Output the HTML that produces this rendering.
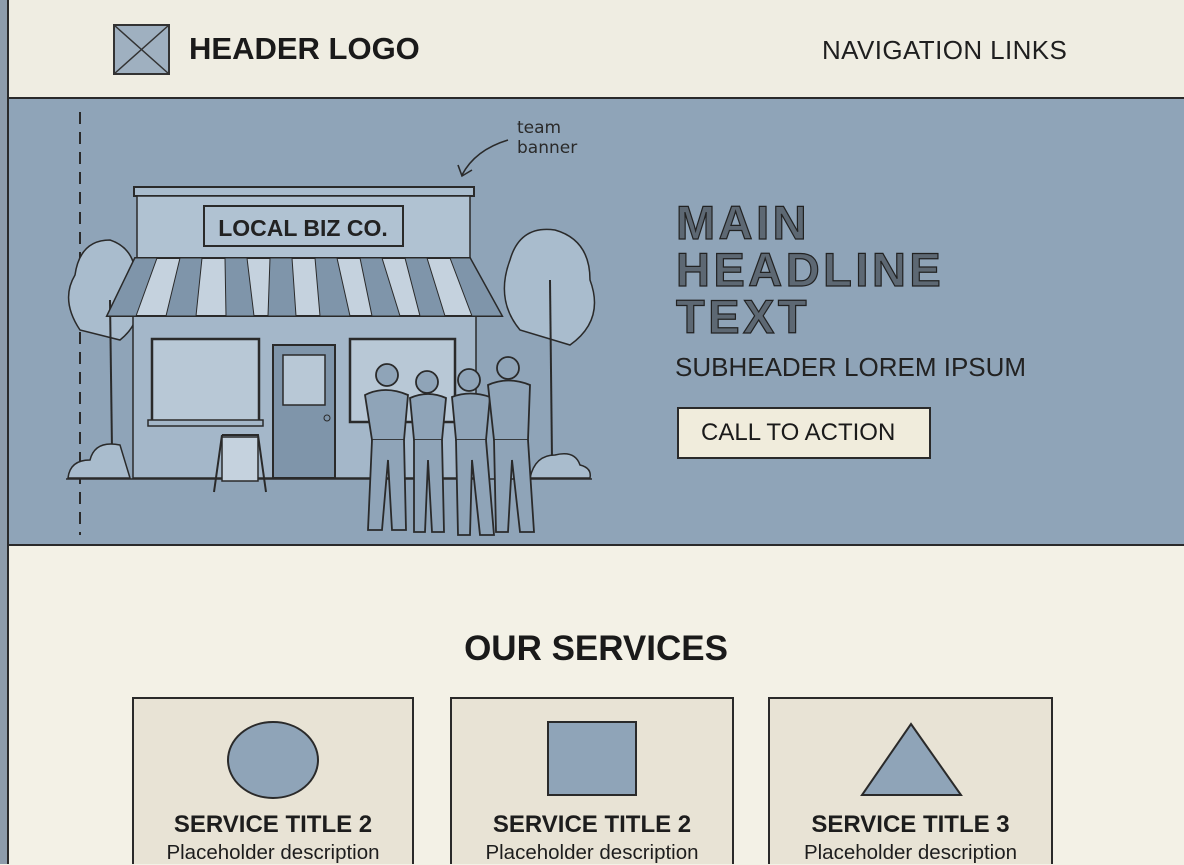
<!DOCTYPE html>
<html><head><meta charset="utf-8"><style>
*{margin:0;padding:0;box-sizing:border-box}
body{width:1184px;height:864px;overflow:hidden;background:#f3f1e6;font-family:"Liberation Sans",sans-serif;position:relative;color:#1d1d1d}
.abs{position:absolute}
</style></head><body>
<div class="abs" style="left:0;top:0;width:8px;height:864px;background:#8d9cab"></div>
<div class="abs" style="left:7px;top:0;width:2px;height:864px;background:#2a2a2a"></div>
<div class="abs" style="left:9px;top:0;width:1175px;height:98px;background:#efede2"></div>
<div class="abs" style="left:9px;top:97px;width:1175px;height:2px;background:#2a2a2a"></div>
<div class="abs" style="left:9px;top:99px;width:1175px;height:447px;background:#8fa4b8"></div>
<div class="abs" style="left:9px;top:544px;width:1175px;height:2px;background:#2a2a2a"></div>

<svg class="abs" style="left:0;top:0" width="1184" height="864">
<rect x="114" y="25" width="55" height="49" fill="#9fb0c0" stroke="#333" stroke-width="2"/>
<line x1="114" y1="25" x2="169" y2="74" stroke="#333" stroke-width="1.5"/><line x1="169" y1="25" x2="114" y2="74" stroke="#333" stroke-width="1.5"/>
<line x1="80" y1="112" x2="80" y2="535" stroke="#2a2a2a" stroke-width="2" stroke-dasharray="12,8"/>
<path d="M508 140 Q475 150 462 175" fill="none" stroke="#2a2a2a" stroke-width="1.6"/>
<path d="M458 165 L462 176 L472 170" fill="none" stroke="#2a2a2a" stroke-width="1.6"/>
<text x="517" y="133" font-family="DejaVu Sans" font-size="17" fill="#2a2a2a">team</text>
<text x="517" y="153" font-family="DejaVu Sans" font-size="17" fill="#2a2a2a">banner</text>
<path d="M80 330 Q60 300 75 275 Q80 240 110 240 Q140 250 135 290 Q145 320 120 340 Z" fill="#a9bccd" stroke="#2a2a2a" stroke-width="1.5"/>
<line x1="110" y1="300" x2="112" y2="450" stroke="#2a2a2a" stroke-width="2"/>
<path d="M520 330 Q495 300 510 260 Q520 225 555 230 Q590 240 590 280 Q605 320 570 345 Z" fill="#a9bccd" stroke="#2a2a2a" stroke-width="1.5"/>
<line x1="550" y1="280" x2="552" y2="460" stroke="#2a2a2a" stroke-width="2"/>
<path d="M68 478 Q70 460 90 460 Q95 440 120 445 L130 478 Z" fill="#a9bccd" stroke="#2a2a2a" stroke-width="1.5"/>
<path d="M530 478 Q535 455 555 455 Q575 450 580 465 Q592 468 590 478 Z" fill="#a9bccd" stroke="#2a2a2a" stroke-width="1.5"/>
<line x1="66" y1="479" x2="592" y2="479" stroke="#2a2a2a" stroke-width="1.5"/>
<rect x="134" y="187" width="340" height="9" fill="#a9bccd" stroke="#2a2a2a" stroke-width="2"/>
<rect x="137" y="196" width="333" height="62" fill="#b0c2d2" stroke="#2a2a2a" stroke-width="1.5"/>
<rect x="204" y="206" width="199" height="40" fill="#b0c2d2" stroke="#2a2a2a" stroke-width="2"/>
<text x="303" y="236" text-anchor="middle" font-size="23" font-weight="bold" fill="#222">LOCAL BIZ CO.</text>
<rect x="133" y="305" width="343" height="173" fill="#a4b7c9" stroke="#2a2a2a" stroke-width="1.5"/>
<path d="M135 258 L470 258 L502 316 L107 316 Z" fill="#c5d2de" stroke="#2a2a2a" stroke-width="2"/>
<g fill="#7f95aa" stroke="#2a2a2a" stroke-width="1">
<path d="M135 258 L157 258 L136 316 L107 316 Z"/><path d="M180 258 L202 258 L196 316 L166 316 Z"/><path d="M225 258 L247 258 L254 316 L226 316 Z"/><path d="M270 258 L292 258 L296 316 L268 316 Z"/><path d="M315 258 L337 258 L350 316 L320 316 Z"/><path d="M360 258 L382 258 L400 316 L372 316 Z"/><path d="M405 258 L427 258 L445 316 L420 316 Z"/><path d="M450 258 L470 258 L502 316 L472 316 Z"/>
</g>
<rect x="152" y="339" width="107" height="83" fill="#b8c8d6" stroke="#2a2a2a" stroke-width="2.5"/>
<rect x="148" y="420" width="115" height="6" fill="#a4b7c9" stroke="#2a2a2a" stroke-width="1.5"/>
<rect x="350" y="339" width="105" height="83" fill="#b8c8d6" stroke="#2a2a2a" stroke-width="2.5"/>
<rect x="273" y="345" width="62" height="133" fill="#7f95aa" stroke="#2a2a2a" stroke-width="2"/>
<rect x="283" y="355" width="42" height="50" fill="#b8c8d6" stroke="#2a2a2a" stroke-width="1.5"/>
<circle cx="327" cy="418" r="3" fill="none" stroke="#2a2a2a"/>
<path d="M222 435 L258 435 L266 492 M222 435 L214 492" fill="none" stroke="#2a2a2a" stroke-width="2"/>
<rect x="222" y="437" width="36" height="44" fill="#c5d2de" stroke="#2a2a2a" stroke-width="1.5"/>
<g fill="#8fa4b8" stroke="#2a2a2a" stroke-width="1.8">
<circle cx="387" cy="375" r="11"/><path d="M365 395 Q385 385 408 395 L404 440 L372 440 Z"/><path d="M372 440 L368 530 L382 530 L388 460 L392 530 L406 530 L404 440"/>
<circle cx="427" cy="382" r="11"/><path d="M410 398 Q428 390 446 398 L442 440 L414 440 Z"/><path d="M414 440 L414 532 L425 532 L428 460 L432 532 L444 532 L442 440"/>
<circle cx="469" cy="380" r="11"/><path d="M452 397 Q470 390 490 397 L486 440 L456 440 Z"/><path d="M456 440 L458 535 L470 535 L472 460 L480 535 L494 535 L486 440"/>
<circle cx="508" cy="368" r="11"/><path d="M488 385 Q508 376 530 385 L528 440 L494 440 Z"/><path d="M494 440 L496 532 L508 532 L512 460 L520 532 L534 532 L528 440"/>
</g>
<g stroke="#2a2a2a" stroke-width="2" fill="#e8e3d5">
<rect x="133" y="698" width="280" height="180"/><rect x="451" y="698" width="282" height="180"/><rect x="769" y="698" width="283" height="180"/>
</g>
<ellipse cx="273" cy="760" rx="45" ry="38" fill="#8fa4b8" stroke="#2a2a2a" stroke-width="2"/>
<rect x="548" y="722" width="88" height="73" fill="#8fa4b8" stroke="#2a2a2a" stroke-width="2"/>
<path d="M911 724 L961 795 L862 795 Z" fill="#8fa4b8" stroke="#2a2a2a" stroke-width="2"/>
</svg>

<div class="abs" style="left:189px;top:31px;font-size:31px;font-weight:bold;color:#1a1a1a">HEADER LOGO</div>
<div class="abs" style="left:822px;top:35px;font-size:26px;letter-spacing:0.4px;color:#1f1f1f">NAVIGATION LINKS</div>
<div class="abs" style="left:676px;top:199px;font-size:47px;line-height:47px;font-weight:bold;color:#5d6873;-webkit-text-stroke:1.2px #222;letter-spacing:3.5px">MAIN<br>HEADLINE<br>TEXT</div>
<div class="abs" style="left:675px;top:352px;font-size:26px;color:#222">SUBHEADER LOREM IPSUM</div>
<div class="abs" style="left:677px;top:407px;width:254px;height:52px;background:#f0ecdc;border:2px solid #2a2a2a;font-size:24px;line-height:48px;padding-left:22px;color:#1a1a1a">CALL TO ACTION</div>
<div class="abs" style="left:0;width:1184px;top:629px;text-align:center;font-size:35px;font-weight:bold;color:#1a1a1a;padding-left:8px">OUR SERVICES</div>
<div class="abs" style="left:133px;width:280px;top:811px;text-align:center;font-size:24px;font-weight:bold">SERVICE TITLE 2</div>
<div class="abs" style="left:451px;width:282px;top:811px;text-align:center;font-size:24px;font-weight:bold">SERVICE TITLE 2</div>
<div class="abs" style="left:769px;width:283px;top:811px;text-align:center;font-size:24px;font-weight:bold">SERVICE TITLE 3</div>
<div class="abs" style="left:133px;width:280px;top:841px;text-align:center;font-size:20.5px">Placeholder description</div>
<div class="abs" style="left:451px;width:282px;top:841px;text-align:center;font-size:20.5px">Placeholder description</div>
<div class="abs" style="left:769px;width:283px;top:841px;text-align:center;font-size:20.5px">Placeholder description</div>
</body></html>
